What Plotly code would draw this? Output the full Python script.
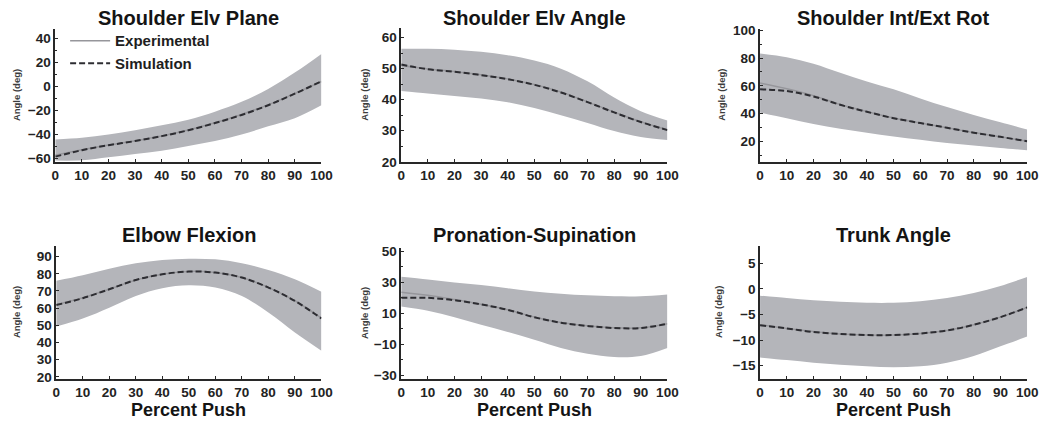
import plotly.graph_objects as go

W, H = 1050, 433
FONT = "Liberation Sans"

percent_push = [0, 10, 20, 30, 40, 50, 60, 70, 80, 90, 100]

titles = ["Shoulder Elv Plane", "Shoulder Elv Angle", "Shoulder Int/Ext Rot",
          "Elbow Flexion", "Pronation-Supination", "Trunk Angle"]

# Shoulder Elv Plane
elvplane_sim = [-58.7, -53.3, -49.2, -45.7, -41.6, -36.7, -30.7, -23.9, -15.8, -6.2, 4.1]
elvplane_exp = [-57.5, -53.0, -49.0, -45.5, -41.5, -36.5, -30.5, -23.5, -15.5, -6.0, 4.0]
elvplane_up = [-44.3, -43.0, -40.2, -36.7, -32.6, -28.0, -21.2, -13.0, -2.2, 11.4, 27.0]
elvplane_lo = [-62.0, -61.8, -59.3, -56.6, -53.8, -49.8, -45.7, -40.2, -33.4, -26.6, -15.8]

# Shoulder Elv Angle
elvangle_sim = [51.3, 49.8, 49.0, 47.9, 46.6, 44.8, 42.3, 39.2, 35.9, 32.8, 30.2]
elvangle_exp = [51.0, 49.9, 49.1, 48.0, 46.7, 44.9, 42.5, 39.3, 36.0, 32.9, 30.3]
elvangle_up = [56.4, 56.4, 56.1, 55.4, 54.3, 52.6, 50.0, 45.9, 40.7, 36.3, 33.3]
elvangle_lo = [42.8, 42.0, 41.2, 40.4, 39.2, 37.3, 35.0, 32.5, 29.9, 28.0, 27.0]

# Shoulder Int/Ext Rot
rot_sim = [57.5, 56.3, 52.4, 46.4, 41.4, 36.8, 33.3, 29.9, 26.4, 23.4, 20.2]
rot_exp = [62.0, 58.0, 53.0, 46.6, 41.6, 37.0, 33.4, 30.0, 26.5, 23.5, 20.3]
rot_up = [83.2, 80.5, 75.9, 69.4, 63.2, 57.5, 51.0, 44.8, 39.0, 33.8, 28.7]
rot_lo = [40.9, 36.8, 32.6, 29.2, 26.4, 23.6, 21.3, 19.0, 17.2, 15.4, 13.8]

# Elbow Flexion
elbow_sim = [61.8, 65.8, 71.0, 76.4, 79.7, 81.3, 80.7, 77.8, 72.0, 64.2, 54.0]
elbow_exp = [62.0, 66.0, 71.0, 76.4, 79.8, 81.4, 80.8, 77.9, 72.1, 64.3, 54.2]
elbow_up = [75.9, 79.1, 83.0, 86.1, 88.0, 88.8, 88.4, 86.1, 82.2, 76.8, 69.5]
elbow_lo = [49.3, 54.0, 60.3, 67.1, 71.6, 73.3, 72.0, 67.1, 57.4, 45.8, 35.2]

# Pronation-Supination
pron_sim = [19.9, 19.9, 18.4, 15.7, 12.2, 7.4, 3.9, 1.8, 0.5, 0.5, 3.2]
pron_exp = [23.5, 21.5, 18.8, 15.8, 12.3, 7.6, 4.0, 1.9, 0.6, 0.6, 3.3]
pron_up = [33.4, 31.7, 29.8, 28.2, 26.1, 24.0, 22.6, 21.5, 20.9, 20.9, 22.0]
pron_lo = [14.3, 11.6, 7.4, 2.6, -2.0, -7.1, -12.3, -16.1, -18.2, -17.5, -12.3]

# Trunk Angle
trunk_sim = [-7.1, -7.7, -8.4, -8.8, -9.0, -9.0, -8.7, -8.1, -7.0, -5.5, -3.6]
trunk_exp = [-7.0, -7.7, -8.3, -8.8, -9.0, -9.0, -8.7, -8.1, -7.0, -5.5, -3.6]
trunk_up = [-1.3, -1.75, -2.2, -2.5, -2.7, -2.7, -2.4, -1.75, -0.8, 0.6, 2.35]
trunk_lo = [-13.4, -13.9, -14.4, -14.8, -15.1, -15.3, -15.1, -14.4, -13.1, -11.2, -9.3]

sims = [elvplane_sim, elvangle_sim, rot_sim, elbow_sim, pron_sim, trunk_sim]
exps = [elvplane_exp, elvangle_exp, rot_exp, elbow_exp, pron_exp, trunk_exp]
ups = [elvplane_up, elvangle_up, rot_up, elbow_up, pron_up, trunk_up]
los = [elvplane_lo, elvangle_lo, rot_lo, elbow_lo, pron_lo, trunk_lo]

y_ranges = [[-63, 48], [20, 63], [5.5, 101], [19, 96.2], [-32, 52], [-17.5, 8.4]]
y_tickvals = [[-60, -40, -20, 0, 20, 40], [20, 30, 40, 50, 60], [20, 40, 60, 80, 100],
              [20, 30, 40, 50, 60, 70, 80, 90], [-30, -10, 10, 30, 50], [-15, -10, -5, 0, 5]]
y_minor = [10, 5, 10, None, 10, None]

# pixel boxes: left, right, top, bottom
boxes = [(52, 322, 23.5, 161), (403, 673, 23, 161), (767, 1038, 23.5, 161),
         (53, 322, 248, 385), (403, 673, 250, 385), (767, 1038, 248, 385)]
ylabel_x = [12, 365, 728, 12, 365, 725]

BAND = "rgb(180,181,186)"
EXP_C = "rgb(150,150,155)"
SIM_C = "rgb(45,45,50)"
AX_C = "rgb(40,40,40)"
TICKFONT = dict(family=FONT, size=13.5, color="rgb(35,35,35)", weight="bold")

fig = go.Figure()
layout = {}
annotations = []

for i in range(6):
    n = i + 1
    xa = "x" if n == 1 else f"x{n}"
    ya = "y" if n == 1 else f"y{n}"
    fig.add_trace(go.Scatter(x=percent_push, y=los[i], mode="lines", line=dict(width=0, shape="spline"),
                             xaxis=xa, yaxis=ya, showlegend=False, hoverinfo="skip"))
    fig.add_trace(go.Scatter(x=percent_push, y=ups[i], mode="lines", line=dict(width=0, shape="spline"),
                             fill="tonexty", fillcolor=BAND,
                             xaxis=xa, yaxis=ya, showlegend=False, hoverinfo="skip"))
    fig.add_trace(go.Scatter(x=percent_push, y=exps[i], mode="lines",
                             line=dict(color=EXP_C, width=1.5, shape="spline"),
                             name="Experimental", showlegend=(i == 0), xaxis=xa, yaxis=ya))
    fig.add_trace(go.Scatter(x=percent_push, y=sims[i], mode="lines",
                             line=dict(color=SIM_C, width=2, dash="6px,3px", shape="spline"),
                             name="Simulation", showlegend=(i == 0), xaxis=xa, yaxis=ya))

    l, r, t, b = boxes[i]
    xkey = "xaxis" if n == 1 else f"xaxis{n}"
    ykey = "yaxis" if n == 1 else f"yaxis{n}"
    layout[xkey] = dict(domain=[l / W, r / W], anchor=ya, range=[0, 100],
                        tickvals=percent_push, ticks="inside", ticklen=3, tickwidth=1,
                        tickcolor=AX_C, showline=True, linecolor=AX_C, linewidth=1.5,
                        showgrid=False, zeroline=False, tickfont=TICKFONT)
    yd = dict(domain=[1 - b / H, 1 - t / H], anchor=xa, range=y_ranges[i],
              tickvals=y_tickvals[i], ticks="inside", ticklen=3, tickwidth=1,
              tickcolor=AX_C, showline=True, linecolor=AX_C, linewidth=1.5,
              showgrid=False, zeroline=False, tickfont=TICKFONT)
    if y_minor[i]:
        yd["minor"] = dict(dtick=y_minor[i], ticks="inside", ticklen=2, tickcolor=AX_C, showgrid=False)
    layout[ykey] = yd

    cx = (l + r) / 2 / W
    ty = 12 if i < 3 else 237
    annotations.append(dict(text=titles[i], x=cx, y=1 - ty / H, xref="paper", yref="paper",
                            xanchor="center", yanchor="middle", showarrow=False,
                            font=dict(family=FONT, size=20, color="rgb(20,20,20)", weight="bold")))
    annotations.append(dict(text="Angle (deg)", x=ylabel_x[i] / W, y=1 - (t + b) / 2 / H,
                            xref="paper", yref="paper", xanchor="center", yanchor="middle",
                            textangle=-90, showarrow=False,
                            font=dict(family=FONT, size=9.5, color="rgb(60,60,60)", weight="bold")))
    if i >= 3:
        annotations.append(dict(text="Percent Push", x=cx, y=1 - 418 / H, xref="paper", yref="paper",
                                xanchor="center", yanchor="middle", showarrow=False,
                                font=dict(family=FONT, size=18, color="rgb(20,20,20)", weight="bold")))

fig.update_layout(**layout)
fig.update_layout(
    width=W, height=H, autosize=False, margin=dict(l=0, r=0, t=0, b=0),
    paper_bgcolor="white", plot_bgcolor="white",
    annotations=annotations,
    legend=dict(x=62 / W, y=1 - 19 / H, xanchor="left", yanchor="top", traceorder="normal",
                bgcolor="rgba(0,0,0,0)", tracegroupgap=0, itemwidth=40,
                font=dict(family=FONT, size=15, color="rgb(30,30,30)", weight="bold")),
)

post = ("var s=document.createElement('style');"
        "s.textContent='html,body{margin:0;padding:0;overflow:hidden;width:1050px;height:433px;}"
        ".plotly-graph-div{display:block;}';"
        "document.head.appendChild(s);")

fig.write_html("out.html", config={"displayModeBar": False, "responsive": False},
               post_script=post)
